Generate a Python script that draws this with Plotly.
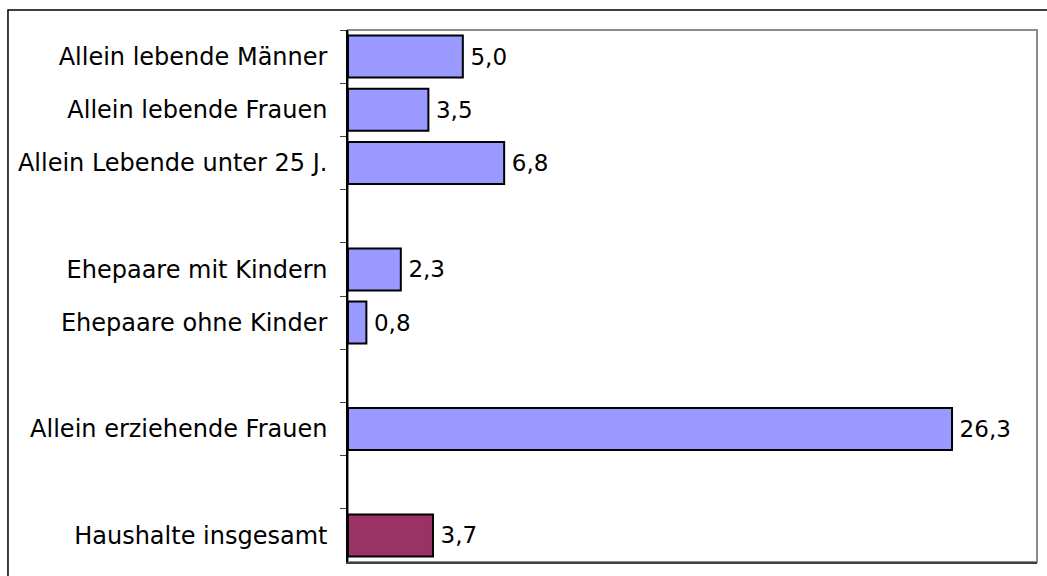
import plotly.graph_objects as go

# Data (blank slots keep the gaps between groups)
categories = [
    "Allein lebende Männer",
    "Allein lebende Frauen",
    "Allein Lebende unter 25 J.",
    " ",
    "Ehepaare mit Kindern",
    "Ehepaare ohne Kinder",
    "  ",
    "Allein erziehende Frauen",
    "   ",
    "Haushalte insgesamt",
]
values = [5.0, 3.5, 6.8, None, 2.3, 0.8, None, 26.3, None, 3.7]
is_total = [False, False, False, False, False, False, False, False, False, True]

BAR_COLOR = "#9999FF"
TOTAL_COLOR = "#993366"
FONT = "DejaVu Sans, Arial, sans-serif"

bar_colors = [TOTAL_COLOR if t else BAR_COLOR for t in is_total]
# German decimal comma, thin space to push the label off the bar end
labels = ["" if v is None else "\u2009" + f"{v:.1f}".replace(".", ",") for v in values]

fig = go.Figure(go.Bar(
    y=categories,
    x=values,
    orientation="h",
    marker=dict(color=bar_colors, line=dict(color="black", width=2)),
    text=labels,
    textposition="outside",
    textfont=dict(family=FONT, size=23, color="black"),
    cliponaxis=False,
    hoverinfo="skip",
))

# plot area frame (grey) and the outer chart border (black)
fig.add_shape(type="rect", xref="paper", yref="paper", x0=0, x1=1, y0=0, y1=1,
              line=dict(color="#8c8c8c", width=2), layer="below")
fig.add_shape(type="rect", xref="paper", yref="paper",
              x0=-0.4935, x1=1.2, y0=-0.2, y1=1.0376,
              line=dict(color="black", width=1.5))

fig.update_layout(
    width=1047,
    height=576,
    margin=dict(l=348, r=10, t=30, b=14),
    paper_bgcolor="white",
    plot_bgcolor="white",
    showlegend=False,
    bargap=0.21,
    font=dict(family=FONT, size=24, color="black"),
    xaxis=dict(
        range=[0, 30],
        showticklabels=False,
        showgrid=False,
        zeroline=False,
        ticks="",
        showline=True,
        linecolor="#404040",
        linewidth=2,
    ),
    yaxis=dict(
        type="category",
        categoryorder="array",
        categoryarray=categories,
        autorange="reversed",
        showgrid=False,
        showline=True,
        linecolor="black",
        linewidth=1.5,
        ticks="outside",
        ticklen=6,
        tickcolor="#404040",
        tickson="boundaries",
        ticklabelstandoff=14,
        tickfont=dict(family=FONT, size=24, color="black"),
    ),
)

fig.write_html(
    "out.html",
    config={"displayModeBar": False},
    post_script="document.body.style.margin='0';",
)
